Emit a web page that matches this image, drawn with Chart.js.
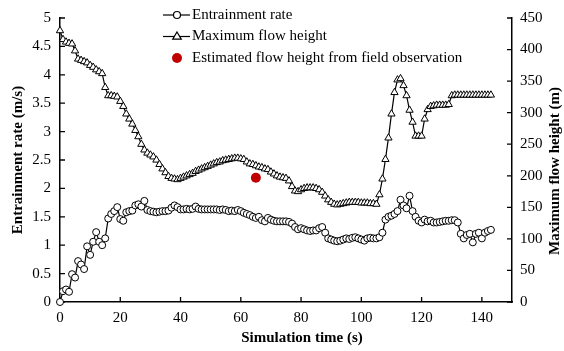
<!DOCTYPE html>
<html><head><meta charset="utf-8">
<script src="https://cdn.jsdelivr.net/npm/chart.js@4/dist/chart.umd.min.js"></script>
<style>html,body{margin:0;padding:0;background:#fff}canvas{display:block}</style>
</head><body>
<canvas id="c" width="564" height="351"></canvas>
<script>
const timeS = [0,1,2,3,4,5,6,7,8,9,10,11,12,13,14,15,16,17,18,19,20,21,22,23,24,25,26,27,28,29,30,31,32,33,34,35,36,37,38,39,40,41,42,43,44,45,46,47,48,49,50,51,52,53,54,55,56,57,58,59,60,61,62,63,64,65,66,67,68,69,70,71,72,73,74,75,76,77,78,79,80,81,82,83,84,85,86,87,88,89,90,91,92,93,94,95,96,97,98,99,100,101,102,103,104,105,106,107,108,109,110,111,112,113,114,115,116,117,118,119,120,121,122,123,124,125,126,127,128,129,130,131,132,133,134,135,136,137,138,139,140,141,142,143];
const entrainmentRate = [
 0,0.19,0.22,0.18,0.49,0.43,0.72,0.66,0.58,0.98,
 0.83,1.06,1.23,1.06,1.0,1.12,1.47,1.55,1.6,1.67,
 1.46,1.43,1.58,1.6,1.61,1.7,1.72,1.68,1.78,1.62,
 1.6,1.59,1.58,1.59,1.6,1.6,1.61,1.66,1.7,1.67,
 1.63,1.63,1.64,1.63,1.64,1.68,1.64,1.63,1.63,1.63,
 1.63,1.63,1.63,1.62,1.63,1.62,1.6,1.61,1.6,1.62,
 1.6,1.57,1.55,1.53,1.5,1.48,1.5,1.44,1.42,1.48,
 1.45,1.43,1.42,1.42,1.42,1.42,1.41,1.38,1.32,1.28,
 1.3,1.28,1.26,1.25,1.26,1.26,1.3,1.32,1.22,1.12,
 1.1,1.08,1.07,1.08,1.1,1.12,1.11,1.13,1.14,1.12,
 1.1,1.08,1.12,1.13,1.12,1.12,1.14,1.22,1.45,1.5,
 1.52,1.55,1.6,1.8,1.7,1.65,1.87,1.6,1.5,1.43,
 1.4,1.45,1.42,1.43,1.4,1.4,1.41,1.42,1.43,1.43,
 1.44,1.44,1.4,1.2,1.12,1.18,1.2,1.05,1.2,1.22,
 1.12,1.22,1.25,1.27];
const maxFlowHeight = [
 430,416,412,410,409,398,385,383,381,379,
 375,372,368,365,362,340,327,327,326,325,
 318,310,298,290,282,272,262,250,241,236,
 233,230,225,218,211,205,199,196,195,194,
 196,198,200,202,204,207,209,211,213,215,
 217,219,221,222,224,225,226,227,228,228,
 227,226,222,219,218,216,214,213,211,210,
 206,203,200,198,197,196,192,183,176,175,
 178,180,181,181,181,180,178,174,168,162,
 158,155,154,155,156,157,158,158,158,158,
 157,157,157,156,156,155,170,195,226,260,
 298,332,352,354,343,327,304,285,263,263,
 263,290,305,310,311,312,312,312,312,313,
 327,328,328,328,328,328,328,328,328,328,
 328,328,328,328];
const fieldObsTime = [65];
const fieldObsHeight = [197];
const xTickValues = [0,20,40,60,80,100,120,140];
const leftTickValues = [0,0.5,1,1.5,2,2.5,3,3.5,4,4.5,5];
const rightTickValues = [0,50,100,150,200,250,300,350,400,450];
const seriesNames = ['Entrainment rate','Maximum flow height','Estimated flow height from field observation'];
const xTitle = 'Simulation time (s)';
const leftTitle = 'Entrainment rate (m/s)';
const rightTitle = 'Maximum flow height (m)';

const FONT = "'Liberation Serif','Times New Roman',serif";
const RED = '#c00000';

const pts = (xs, ys) => xs.map((x, i) => ({x, y: ys[i]}));

const inwardTicks = {
  id: 'inwardTicks',
  beforeDatasetsDraw(chart) {
    const {ctx, chartArea: a, scales} = chart;
    ctx.save();
    ctx.strokeStyle = '#000';
    ctx.lineWidth = 1.3;
    ctx.beginPath();
    scales.x.ticks.forEach(t => { const p = scales.x.getPixelForValue(t.value); ctx.moveTo(p, a.bottom); ctx.lineTo(p, a.bottom - 5); });
    scales.y.ticks.forEach(t => { const p = scales.y.getPixelForValue(t.value); ctx.moveTo(a.left, p); ctx.lineTo(a.left + 5, p); });
    scales.y2.ticks.forEach(t => { const p = scales.y2.getPixelForValue(t.value); ctx.moveTo(a.right, p); ctx.lineTo(a.right - 5, p); });
    ctx.stroke();
    ctx.restore();
  }
};

const customLegend = {
  id: 'customLegend',
  afterDraw(chart) {
    const {ctx} = chart;
    ctx.save();
    const rows = [15, 36.5, 58];
    ctx.strokeStyle = '#000';
    ctx.lineWidth = 1.2;
    ctx.beginPath(); ctx.moveTo(163, rows[0]); ctx.lineTo(190, rows[0]); ctx.stroke();
    ctx.beginPath(); ctx.arc(177, rows[0], 3.5, 0, Math.PI * 2); ctx.fillStyle = '#fff'; ctx.fill(); ctx.stroke();
    ctx.beginPath(); ctx.moveTo(163, rows[1]); ctx.lineTo(190, rows[1]); ctx.stroke();
    ctx.beginPath();
    const r = 4.5, cx = 177, cy = rows[1];
    ctx.moveTo(cx, cy - r); ctx.lineTo(cx + r * 0.95, cy + r * 0.6); ctx.lineTo(cx - r * 0.95, cy + r * 0.6); ctx.closePath();
    ctx.fillStyle = '#fff'; ctx.fill(); ctx.stroke();
    ctx.beginPath(); ctx.arc(177, rows[2], 5, 0, Math.PI * 2); ctx.fillStyle = RED; ctx.fill();
    ctx.fillStyle = '#000';
    ctx.font = '15px ' + FONT;
    ctx.textBaseline = 'middle';
    ctx.textAlign = 'left';
    seriesNames.forEach((s, i) => ctx.fillText(s, 192, rows[i]));
    // x axis title
    ctx.textAlign = 'center';
    ctx.font = 'bold 15px ' + FONT;
    ctx.fillText(xTitle, 302, 338);
    // right axis title (reads bottom to top)
    ctx.translate(555, 171);
    ctx.rotate(-Math.PI / 2);
    ctx.fillText(rightTitle, 0, 0);
    ctx.restore();
  }
};

new Chart(document.getElementById('c'), {
  type: 'line',
  data: {
    datasets: [
      {
        label: seriesNames[0], data: pts(timeS, entrainmentRate), yAxisID: 'y',
        borderColor: '#000', borderWidth: 1.2, backgroundColor: '#fff',
        pointStyle: 'circle', pointRadius: 3.5, pointBorderWidth: 1, pointBackgroundColor: '#fff', pointBorderColor: '#000',
        tension: 0, clip: false
      },
      {
        label: seriesNames[1], data: pts(timeS, maxFlowHeight), yAxisID: 'y2',
        borderColor: '#000', borderWidth: 1.2, backgroundColor: '#fff',
        pointStyle: 'triangle', pointRadius: 4.2, pointBorderWidth: 1, pointBackgroundColor: '#fff', pointBorderColor: '#000',
        tension: 0, clip: false
      },
      {
        label: seriesNames[2], data: pts(fieldObsTime, fieldObsHeight), yAxisID: 'y2',
        showLine: false, pointStyle: 'circle', pointRadius: 5, pointBorderWidth: 0,
        pointBackgroundColor: RED, pointBorderColor: RED, clip: false
      }
    ]
  },
  options: {
    responsive: false, animation: false, devicePixelRatio: 1,
    layout: {padding: {top: 11, left: 0, right: 0, bottom: 0}},
    plugins: {legend: {display: false}, tooltip: {enabled: false}},
    scales: {
      x: {
        type: 'linear', min: 0, max: 150,
        afterBuildTicks: s => { s.ticks = xTickValues.map(v => ({value: v})); },
        afterFit: s => { s.height = 49; },
        grid: {display: false, drawTicks: false},
        border: {display: true, color: '#000', width: 1.5},
        ticks: {color: '#000', font: {family: FONT, size: 15}, padding: 7, maxRotation: 0, callback: v => String(v)},
        title: {display: false}
      },
      y: {
        type: 'linear', position: 'left', min: 0, max: 5,
        afterBuildTicks: s => { s.ticks = leftTickValues.map(v => ({value: v})); },
        afterFit: s => { s.width = 60; },
        grid: {display: false, drawTicks: false},
        border: {display: true, color: '#000', width: 1.5},
        ticks: {color: '#000', font: {family: FONT, size: 15}, padding: 9, callback: v => String(v)},
        title: {display: true, text: leftTitle, color: '#000', font: {family: FONT, size: 15, weight: 'bold'}, padding: {top: 9, bottom: 0}}
      },
      y2: {
        type: 'linear', position: 'right', min: 0, max: 450,
        afterBuildTicks: s => { s.ticks = rightTickValues.map(v => ({value: v})); },
        afterFit: s => { s.width = 52; },
        grid: {display: false, drawTicks: false},
        border: {display: true, color: '#000', width: 1.5},
        ticks: {color: '#000', font: {family: FONT, size: 15}, padding: 8, callback: v => String(v)},
        title: {display: false}
      }
    }
  },
  plugins: [inwardTicks, customLegend]
});
</script>
</body></html>
